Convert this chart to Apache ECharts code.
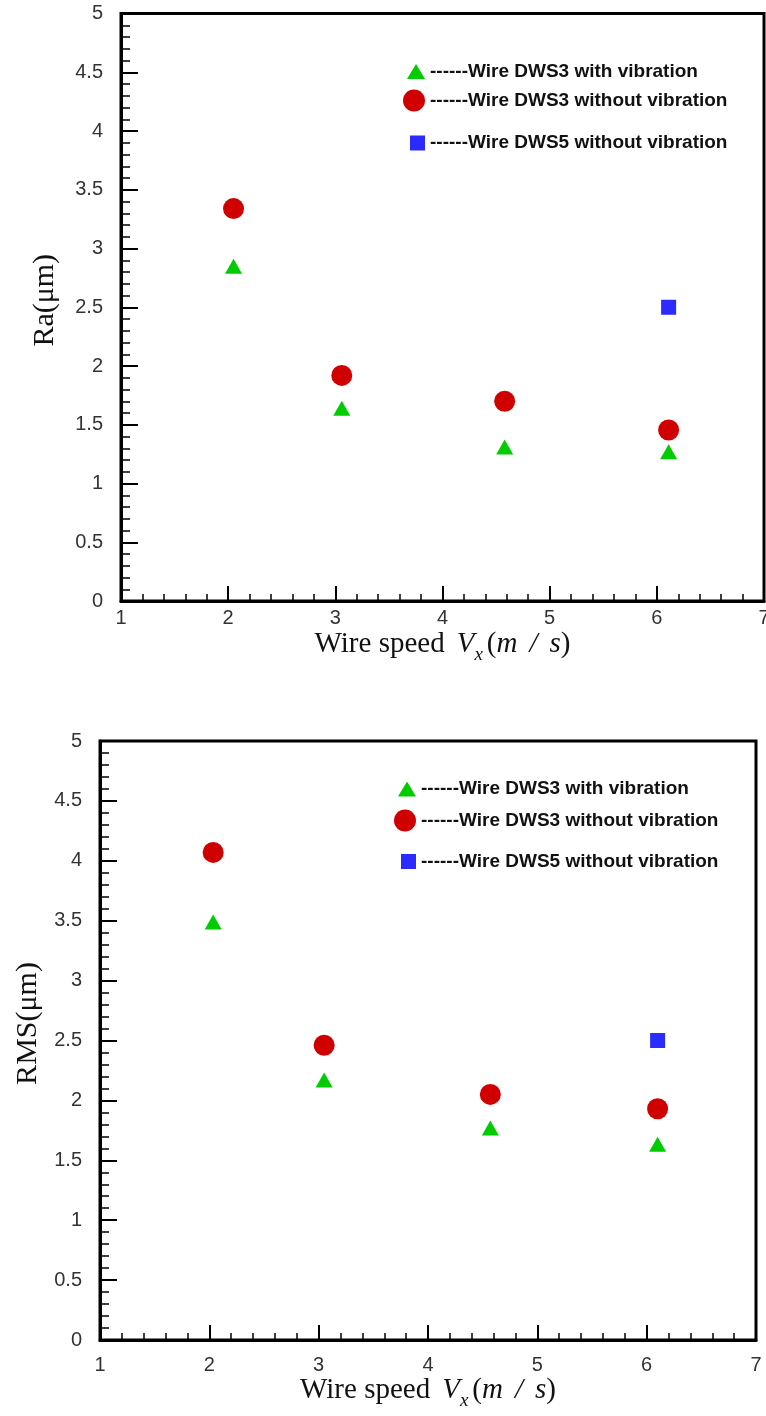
<!DOCTYPE html>
<html><head><meta charset="utf-8">
<script src="https://cdn.jsdelivr.net/npm/echarts@6/dist/echarts.min.js"></script>
<style>html,body{margin:0;padding:0;background:#fff}#c{width:766px;height:1416px}</style>
</head><body><div id="c"></div>
<script>
// ---- data ----
const seriesNames = ['------Wire DWS3 with vibration', '------Wire DWS3 without vibration', '------Wire DWS5 without vibration'];
// Top chart: Ra
const raSpeed = [2.05, 3.06, 4.58, 6.11];
const raWithVib = [2.85, 1.64, 1.31, 1.27];
const raWithoutVib = [3.34, 1.92, 1.70, 1.455];
const raDws5Speed = [6.11];
const raDws5 = [2.50];
// Bottom chart: RMS
const rmsSpeed = [2.035, 3.05, 4.57, 6.10];
const rmsWithVib = [3.49, 2.17, 1.77, 1.635];
const rmsWithoutVib = [4.07, 2.46, 2.05, 1.93];
const rmsDws5Speed = [6.10];
const rmsDws5 = [2.50];
// axes
const xMin = 1, xMax = 7, xStep = 1;
const yMin = 0, yMax = 5, yStep = 0.5;
const yNames = ['Ra(μm)', 'RMS(μm)'];
const xName = '{n|Wire speed}{v|V}{s|x}{n|(}{i|m}{sl|/}{i|s}{n|)}';

const pairs = (xs, ys) => xs.map((x, i) => [x, ys[i]]);

const serif = 'Liberation Serif, Times New Roman, serif';
const sans = 'Liberation Sans, Arial, sans-serif';

function xAxisCfg(gridIndex, labelMargin, nameGap) {
  return {
    type: 'value', gridIndex, min: xMin, max: xMax, interval: xStep,
    axisLine: { show: true, lineStyle: { color: '#000', width: 3 } },
    axisTick: { show: true, inside: true, length: 15, lineStyle: { color: '#000', width: 2 } },
    minorTick: { show: true, splitNumber: 5, length: 7, lineStyle: { color: '#000', width: 1.5 } },
    splitLine: { show: false },
    axisLabel: { fontSize: 20, fontFamily: sans, color: '#333', margin: labelMargin },
    name: xName, nameLocation: 'middle', nameGap, nameMoveOverlap: false,
    nameTextStyle: {
      color: '#111',
      rich: {
        n: { fontFamily: serif, fontSize: 29, color: '#111' },
        v: { fontFamily: serif, fontSize: 29, fontStyle: 'italic', color: '#111', padding: [0, 0, 0, 12] },
        i: { fontFamily: serif, fontSize: 29, fontStyle: 'italic', color: '#111' },
        sl: { fontFamily: serif, fontSize: 29, fontStyle: 'italic', color: '#111', padding: [0, 12, 0, 12] },
        s: { fontFamily: serif, fontSize: 19, fontStyle: 'italic', color: '#111', padding: [20, 4, 0, 0] }
      }
    }
  };
}
function yAxisCfg(gridIndex, name, nameGap, shift) {
  return {
    type: 'value', gridIndex, min: yMin, max: yMax, interval: yStep,
    axisLine: { show: true, lineStyle: { color: '#000', width: 3 } },
    axisTick: { show: true, inside: true, length: 17, lineStyle: { color: '#000', width: 2 } },
    minorTick: { show: true, splitNumber: 5, length: 9, lineStyle: { color: '#000', width: 1.5 } },
    splitLine: { show: false },
    axisLabel: { fontSize: 20, fontFamily: sans, color: '#333', margin: 18 },
    name, nameLocation: 'middle', nameGap, nameMoveOverlap: false,
    nameTextStyle: { fontFamily: serif, fontSize: 30, color: '#111', padding: [0, 0, 0, shift] }
  };
}
const styles = [
  { symbol: 'triangle', symbolSize: [17, 15], color: '#00CC00' },
  { symbol: 'circle', symbolSize: 21, color: '#D00000' },
  { symbol: 'rect', symbolSize: 15, color: '#2B2BFF' }
];
function sc(name, idx, data, s) {
  return {
    type: 'scatter', name, xAxisIndex: idx, yAxisIndex: idx, data,
    symbol: s.symbol, symbolSize: s.symbolSize,
    itemStyle: { color: s.color, opacity: 1 }, emphasis: { disabled: true }, z: 3
  };
}
function lg(name, left, top, w, h) {
  return {
    data: [name], left, top, itemWidth: w, itemHeight: h, padding: 0, selectedMode: false,
    textStyle: { fontFamily: sans, fontWeight: 'bold', fontSize: 19, color: '#111' }
  };
}

const option = {
  animation: false,
  backgroundColor: '#fff',
  grid: [
    { left: 121, top: 13.5, width: 643, height: 587.5, show: true, borderColor: '#000', borderWidth: 3, backgroundColor: 'transparent', containLabel: false, outerBoundsMode: 'none' },
    { left: 100, top: 741, width: 656, height: 599, show: true, borderColor: '#000', borderWidth: 3, backgroundColor: 'transparent', containLabel: false, outerBoundsMode: 'none' }
  ],
  xAxis: [xAxisCfg(0, 7, 24), xAxisCfg(1, 15, 31)],
  yAxis: [yAxisCfg(0, yNames[0], 61, 14), yAxisCfg(1, yNames[1], 57, 34)],
  legend: [
    lg(seriesNames[0], 407, 62, 18, 15),
    lg(seriesNames[1], 403, 89.5, 22, 22),
    lg(seriesNames[2], 410, 133.5, 15, 15),
    lg(seriesNames[0], 398, 779.5, 18, 15),
    lg(seriesNames[1], 394, 809.5, 22, 22),
    lg(seriesNames[2], 401, 852, 15, 15)
  ],
  series: [
    sc(seriesNames[0], 0, pairs(raSpeed, raWithVib), styles[0]),
    sc(seriesNames[1], 0, pairs(raSpeed, raWithoutVib), styles[1]),
    sc(seriesNames[2], 0, pairs(raDws5Speed, raDws5), styles[2]),
    sc(seriesNames[0], 1, pairs(rmsSpeed, rmsWithVib), styles[0]),
    sc(seriesNames[1], 1, pairs(rmsSpeed, rmsWithoutVib), styles[1]),
    sc(seriesNames[2], 1, pairs(rmsDws5Speed, rmsDws5), styles[2])
  ]
};
const chart = echarts.init(document.getElementById('c'), null, { renderer: 'canvas' });
chart.setOption(option);
</script>
</body></html>
